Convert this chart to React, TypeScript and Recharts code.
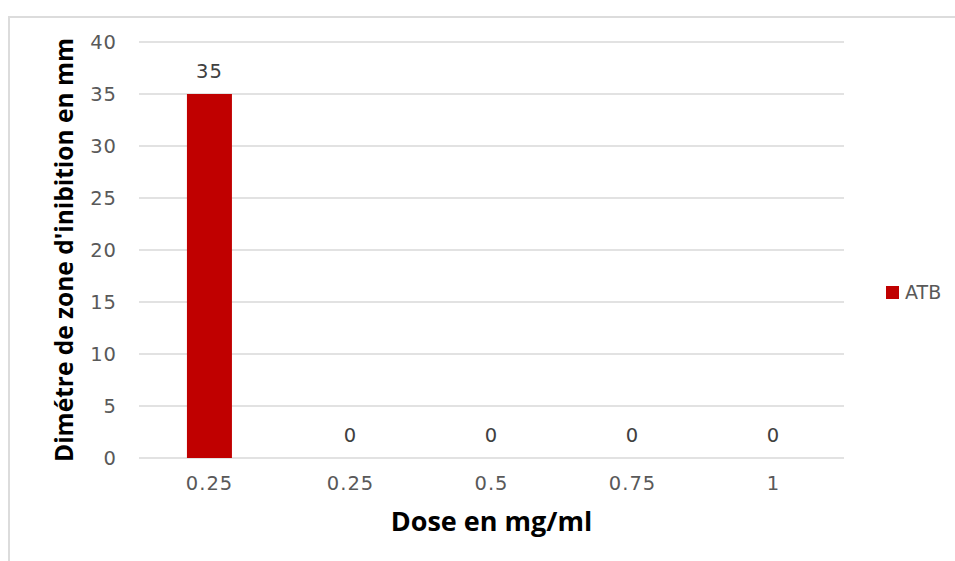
import { ComposedChart, Bar, Line, XAxis, YAxis, CartesianGrid, Legend, LabelList } from 'recharts';

const doses = ['0.25', '0.25', '0.5', '0.75', '1'];
const atbValues = [35, 0, 0, 0, 0];
const yTicks = [0, 5, 10, 15, 20, 25, 30, 35, 40];

const BAR_COLOR = '#C00000';
const GRID_COLOR = '#d9d9d9';
const TICK_FONT = "'DejaVu Sans', sans-serif";
const TITLE_FONT = "'Open Sans', sans-serif";

const chartData = doses.map((dose, i) => ({ dose, ATB: atbValues[i] }));

const tickStyle = { fill: '#595959', fontSize: 19.5, fontFamily: TICK_FONT, letterSpacing: 1 };

function LegendBox({ payload }: { payload?: any[] }) {
  return (
    <div>
      {(payload || [])
        .filter((item) => item.type !== 'none')
        .map((item) => (
          <div key={item.value} style={{ display: 'flex', alignItems: 'center' }}>
            <span style={{ width: 13, height: 13, background: item.color, marginRight: 6 }} />
            <span style={{ fontFamily: TICK_FONT, fontSize: 19, color: '#595959' }}>{item.value}</span>
          </div>
        ))}
    </div>
  );
}

export default function App() {
  return (
    <div
      style={{
        position: 'absolute',
        left: 0,
        top: 0,
        width: 955,
        height: 561,
        overflow: 'hidden',
        background: '#fff',
      }}
    >
      {/* chart frame, clipped on the right and bottom */}
      <div
        style={{
          position: 'absolute',
          left: 8,
          top: 16,
          width: 1100,
          height: 700,
          border: '2px solid #dcdcdc',
        }}
      />
      <ComposedChart
        width={955}
        height={561}
        data={chartData}
        margin={{ top: 42, right: 111, bottom: 0, left: 0 }}
        barCategoryGap="34%"
        style={{ position: 'absolute', left: 0, top: 0 }}
      >
        <CartesianGrid vertical={false} stroke={GRID_COLOR} strokeWidth={1.5} />
        <XAxis
          dataKey="dose"
          height={103}
          axisLine={false}
          tickLine={false}
          tickSize={0}
          tickMargin={18}
          tick={tickStyle}
          label={{
            value: 'Dose en mg/ml',
            position: 'insideBottom',
            offset: 30,
            style: { fill: '#000', fontSize: 27, fontWeight: 700, fontFamily: TITLE_FONT },
          }}
        />
        <YAxis
          width={139}
          domain={[0, 40]}
          ticks={yTicks}
          axisLine={false}
          tickLine={false}
          tickSize={0}
          tickMargin={22}
          tick={tickStyle}
          label={{
            value: "Dimétre de zone d'inibition en mm",
            angle: -90,
            position: 'insideLeft',
            offset: 64,
            style: {
              fill: '#000',
              fontSize: 24.5,
              fontWeight: 700,
              fontFamily: TITLE_FONT,
              textAnchor: 'middle',
            },
          }}
        />
        <Legend
          content={<LegendBox />}
          layout="horizontal"
          align="center"
          verticalAlign="middle"
          wrapperStyle={{ left: 886, top: 281, width: 80 }}
        />
        <Bar dataKey="ATB" fill={BAR_COLOR} isAnimationActive={false} />
        {/* value labels above each category, zero values included */}
        <Line
          dataKey="ATB"
          stroke="none"
          dot={false}
          activeDot={false}
          legendType="none"
          isAnimationActive={false}
        >
          <LabelList
            dataKey="ATB"
            position="top"
            offset={16}
            style={{ fill: '#404040', fontSize: 19.5, fontFamily: TICK_FONT, letterSpacing: 1 }}
          />
        </Line>
      </ComposedChart>
    </div>
  );
}
